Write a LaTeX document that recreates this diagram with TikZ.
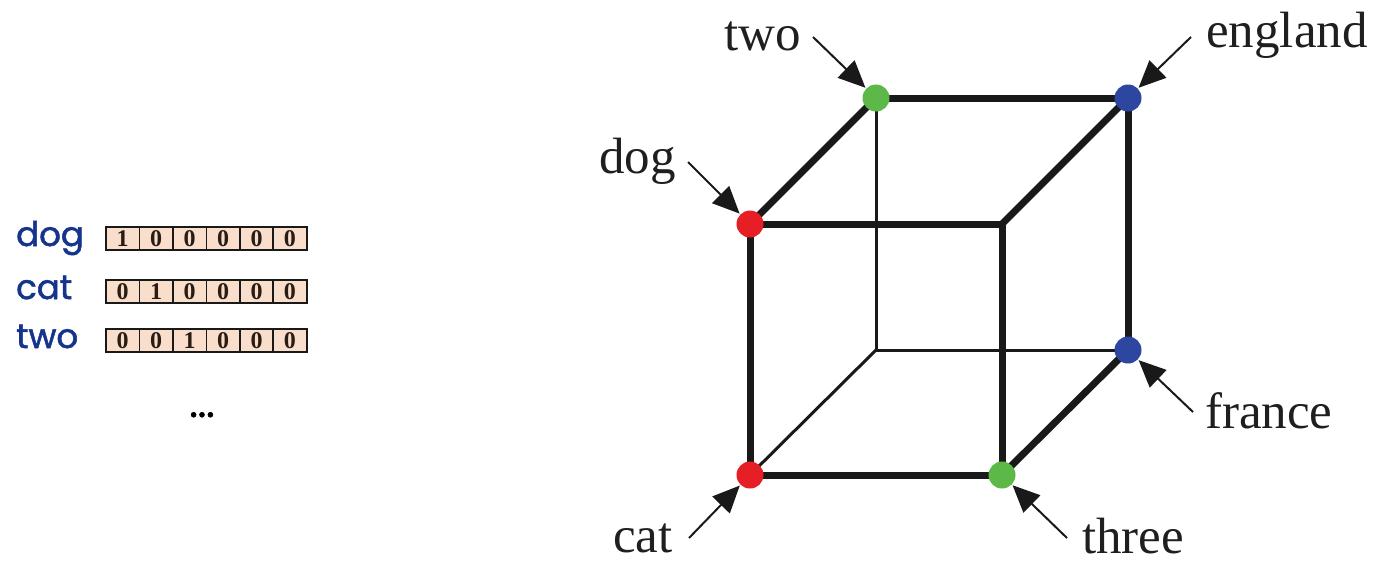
\documentclass[tikz,border=0pt]{standalone}
\usepackage{fontspec}
\setmainfont{Liberation Serif}
\newfontfamily\wordfont{Poppins}[FakeBold=1.6]
\usetikzlibrary{arrows.meta}
\definecolor{wordblue}{RGB}{22,52,140}
\definecolor{peach}{RGB}{249,222,204}
\definecolor{dotred}{RGB}{230,30,37}
\definecolor{dotgreen}{RGB}{92,185,72}
\definecolor{dotblue}{RGB}{45,70,160}
\definecolor{digit}{RGB}{40,28,20}
\begin{document}
\begin{tikzpicture}[x=1pt,y=-1pt,
  thickedge/.style={line width=7pt, line cap=round, line join=round, black!90},
  thinedge/.style={line width=3pt, line cap=round, black!90},
  vdot/.style={circle, inner sep=0pt, minimum size=27pt},
  lbl/.style={anchor=base west, inner sep=0pt, font=\fontsize{51}{60}\selectfont, text=black!88},
  pointer/.style={line width=2pt, black!90, -{Triangle[length=27pt,width=24pt]}, shorten >=1pt},
  word/.style={anchor=base west, inner sep=0pt, font=\wordfont\fontsize{34}{38}\selectfont, text=wordblue},
  cell/.style={draw=black!90, line width=1.6pt, fill=peach, minimum width=33.45pt, minimum height=23pt, inner sep=0pt, text=digit, font=\bfseries\fontsize{24}{24}\selectfont}
]
\useasboundingbox (0,0) rectangle (1400,582);

% ---- one-hot vectors ----
\node[word] (wdog) at (16,246) {dog};
\node[word] (wcat) at (16,299) {cat};
\node[word] (wtwo) at (16,348) {two};
\foreach \r/\y/\one in {1/238.5/1, 2/291.5/2, 3/340.5/3}{
  \foreach \c in {1,...,6}{
    \node[cell] (r\r-\c) at ({106+(\c-0.5)*33.45},\y) {\ifnum\c=\one\relax 1\else 0\fi};
  }
}
\node[anchor=base, inner sep=0pt, text=black, font=\wordfont\fontsize{40}{40}\selectfont] (more) at (202,417) {...};

% ---- cube vertices ----
\coordinate (pdog) at (750,224);
\coordinate (pcat) at (750,475);
\coordinate (pthree) at (1002,475);
\coordinate (pftr) at (1002,224);
\coordinate (ptwo) at (876,98);
\coordinate (peng) at (1128,98);
\coordinate (pfra) at (1128,350);
\coordinate (pbbl) at (876,350);

% hidden (thin) edges
\draw[thinedge] (ptwo) -- (pbbl);
\draw[thinedge] (pbbl) -- (pfra);
\draw[thinedge] (pbbl) -- (pcat);

% visible (thick) edges
\draw[thickedge] (pdog) -- (pftr) -- (pthree) -- (pcat) -- cycle;
\draw[thickedge] (pdog) -- (ptwo);
\draw[thickedge] (ptwo) -- (peng);
\draw[thickedge] (peng) -- (pftr);
\draw[thickedge] (peng) -- (pfra);
\draw[thickedge] (pthree) -- (pfra);

% dots
\node[vdot, fill=dotred] (ndog) at (pdog) {};
\node[vdot, fill=dotred] (ncat) at (pcat) {};
\node[vdot, fill=dotgreen] (ntwo) at (ptwo) {};
\node[vdot, fill=dotgreen] (nthree) at (pthree) {};
\node[vdot, fill=dotblue] (neng) at (peng) {};
\node[vdot, fill=dotblue] (nfra) at (pfra) {};

% labels
\node[lbl] (ltwo) at (724,50) {two};
\node[lbl] (ldog) at (599,173) {dog};
\node[lbl] (leng) at (1206,47) {england};
\node[lbl] (lfra) at (1205,428) {france};
\node[lbl] (lcat) at (613,552) {cat};
\node[lbl] (lthree) at (1082,553) {three};

% arrow starts
\coordinate (stwo) at (813,37);
\coordinate (sdog) at (688,162);
\coordinate (seng) at (1191,37);
\coordinate (sfra) at (1193,412);
\coordinate (scat) at (689,538);
\coordinate (sthree) at (1067,538);

\draw[pointer] (stwo) -- (ntwo);
\draw[pointer] (sdog) -- (ndog);
\draw[pointer] (seng) -- (neng);
\draw[pointer] (sfra) -- (nfra);
\draw[pointer] (scat) -- (ncat);
\draw[pointer] (sthree) -- (nthree);
\end{tikzpicture}
\end{document}
